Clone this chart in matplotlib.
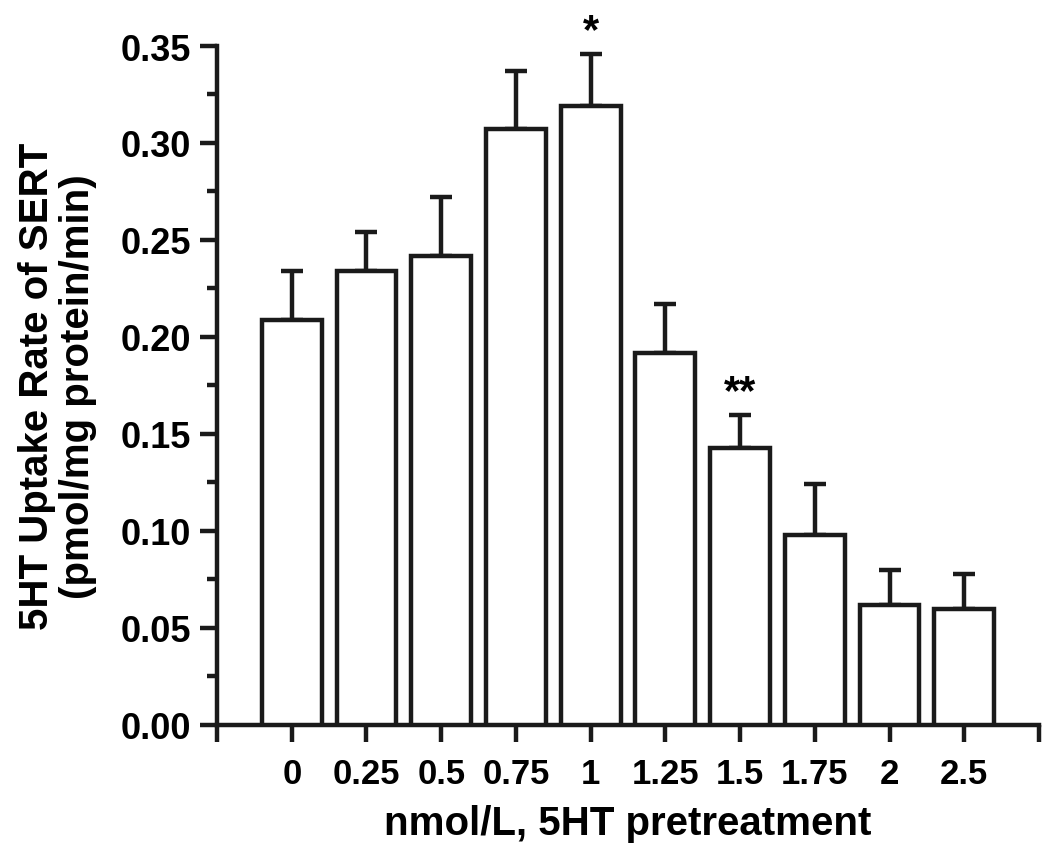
import numpy as np
import matplotlib.pyplot as plt
from matplotlib.ticker import MultipleLocator

# values
doses = ['0', '0.25', '0.5', '0.75', '1', '1.25', '1.5', '1.75', '2', '2.5']
uptake = [0.209, 0.234, 0.242, 0.307, 0.319, 0.192, 0.143, 0.098, 0.062, 0.060]
sem = [0.025, 0.020, 0.030, 0.030, 0.027, 0.025, 0.017, 0.026, 0.018, 0.018]
marks = ['', '', '', '', '*', '', '**', '', '', '']

plt.rcParams['font.family'] = ['Liberation Sans', 'DejaVu Sans']
plt.rcParams['font.weight'] = 'bold'

fig = plt.figure(figsize=(10.5, 8.53), dpi=100)
ax = fig.add_axes([0.2067, 0.1489, 0.7828, 0.7960])

x = np.arange(1, len(doses) + 1)
ax.bar(x, uptake, width=0.8, color='white', edgecolor='#1a1a1a', linewidth=3.2, zorder=3)
ax.errorbar(x, uptake, yerr=[np.zeros(len(sem)), sem], fmt='none', ecolor='#1a1a1a',
            elinewidth=3.2, capsize=8, capthick=3.2, zorder=2)

# significance marks above the error bars
for xi, yi, ei, m in zip(x, uptake, sem, marks):
    if m:
        ax.annotate(m, (xi, yi + ei), xytext=(0, 2), textcoords='offset points',
                    ha='center', va='bottom', fontsize=30, fontweight='bold')

ax.set_xlim(0, len(doses) + 1)
ax.set_ylim(0, 0.35)
ax.set_xticks(np.arange(0, len(doses) + 2))
ax.set_xticklabels([''] + doses + [''])
ax.yaxis.set_major_locator(MultipleLocator(0.05))
ax.yaxis.set_minor_locator(MultipleLocator(0.025))
ax.yaxis.set_major_formatter(plt.FormatStrFormatter('%.2f'))

for s in ['top', 'right']:
    ax.spines[s].set_visible(False)
for s in ['left', 'bottom']:
    ax.spines[s].set_linewidth(3.2)
    ax.spines[s].set_color('#1a1a1a')

ax.tick_params(axis='both', which='major', length=12, width=3.2, color='#1a1a1a')
ax.tick_params(axis='y', which='major', labelsize=26, pad=7)
ax.tick_params(axis='x', which='major', labelsize=25, pad=11)
ax.tick_params(axis='y', which='minor', length=7, width=3.2, color='#1a1a1a')
ax.tick_params(axis='x', which='minor', length=0)

ax.set_xlabel('nmol/L, 5HT pretreatment', fontsize=29, fontweight='bold', labelpad=10)
ax.set_ylabel('5HT Uptake Rate of SERT\n(pmol/mg protein/min)', fontsize=29,
              fontweight='bold', labelpad=17, linespacing=1.1)

plt.savefig('out.png', dpi=100)
